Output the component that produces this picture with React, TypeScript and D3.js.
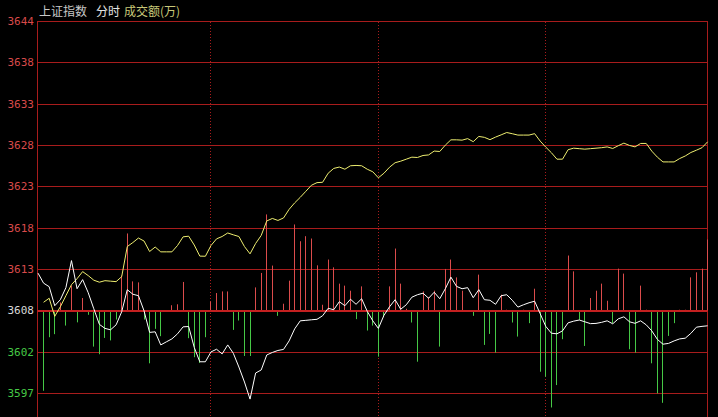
import React from "react";
import * as d3 from "d3";

// ---- data ----
const slotMinutes: number[] = d3.range(0, 241, 2); // every 2 minutes, 9:30 .. 15:00
const prevClose = 3608.05;
const gridStep = 5.15;
const tickLabels = ["3644", "3638", "3633", "3628", "3623", "3618", "3613", "3608", "3602", "3597"];
const tickSteps = [7, 6, 5, 4, 3, 2, 1, 0, -1, -2];
const gridMinutes = [62, 122, 182];

const yellowSeries: (number | null)[] = [
  null, 3609.11, 3609.61, 3607.36, 3608.55, 3609.93, 3611.30, 3612.05, 3612.93, 3612.43,
  3611.86, 3611.61, 3611.80, 3611.74, 3611.68, 3612.30, 3616.05, 3616.55, 3617.11, 3616.74,
  3615.43, 3615.99, 3615.39, 3615.39, 3615.39, 3616.18, 3617.26, 3617.34, 3616.24, 3614.86,
  3614.84, 3616.18, 3617.01, 3617.30, 3617.74, 3617.51, 3617.30, 3616.05, 3615.14, 3616.43,
  3617.43, 3619.24, 3619.55, 3619.30, 3619.61, 3620.68, 3621.49, 3622.18, 3622.93, 3623.68,
  3624.01, 3624.05, 3625.18, 3625.78, 3625.95, 3625.68, 3626.11, 3626.15, 3626.11, 3625.68,
  3625.36, 3624.61, 3625.18, 3625.93, 3626.49, 3626.68, 3626.93, 3627.18, 3627.14, 3627.39,
  3627.46, 3627.94, 3627.89, 3628.68, 3629.34, 3629.34, 3629.30, 3629.49, 3629.11, 3629.76,
  3629.65, 3629.36, 3629.68, 3629.96, 3630.25, 3630.10, 3629.93, 3629.93, 3629.93, 3630.11,
  3629.18, 3628.43, 3627.74, 3626.93, 3626.93, 3628.11, 3628.30, 3628.24, 3628.18, 3628.24,
  3628.30, 3628.36, 3628.46, 3628.26, 3628.61, 3628.93, 3628.64, 3628.46, 3628.89, 3628.89,
  3627.93, 3627.18, 3626.59, 3626.59, 3626.59, 3627.01, 3627.33, 3627.76, 3628.05, 3628.36, 3629.09,
];

const whiteSeries: number[] = [
  3612.74, 3611.49, 3611.05, 3608.68, 3609.43, 3610.93, 3614.30, 3610.80, 3611.93, 3610.30,
  3608.30, 3606.36, 3605.86, 3605.68, 3606.30, 3607.93, 3610.68, 3610.11, 3609.93, 3608.05,
  3605.36, 3605.43, 3603.80, 3604.18, 3604.55, 3605.18, 3606.05, 3606.09, 3603.49, 3601.70,
  3601.70, 3602.93, 3603.26, 3602.68, 3603.80, 3602.76, 3601.05, 3599.18, 3597.05, 3600.30,
  3600.68, 3602.55, 3602.86, 3603.11, 3603.24, 3604.30, 3605.80, 3606.80, 3606.86, 3606.93,
  3606.99, 3607.43, 3608.36, 3608.18, 3609.18, 3608.68, 3609.49, 3608.86, 3609.55, 3607.99,
  3606.80, 3605.86, 3607.49, 3608.55, 3609.43, 3608.24, 3608.80, 3609.74, 3610.05, 3610.24,
  3609.61, 3610.36, 3609.55, 3610.80, 3612.24, 3611.09, 3610.80, 3610.93, 3609.68, 3610.68,
  3609.43, 3609.36, 3608.86, 3609.93, 3610.05, 3609.36, 3608.51, 3608.80, 3609.05, 3609.24,
  3607.68, 3606.11, 3605.26, 3605.18, 3605.55, 3606.55, 3606.76, 3606.90, 3606.68, 3606.45,
  3606.48, 3606.61, 3606.80, 3606.43, 3607.05, 3607.30, 3606.68, 3606.49, 3606.80, 3606.30,
  3605.55, 3604.49, 3603.89, 3603.99, 3604.30, 3604.55, 3604.64, 3605.24, 3606.01, 3606.11, 3606.18,
];

const barSeries: number[] = [
  0, -9.96, -3.29, -2.91, 1.04, -1.84, 3.13, -1.44, 1.59, -0.5,
  -4.46, -5.41, -3.38, -3.69, -1.09, 4.38, 9.63, 3.66, 3.54, -1.09,
  -6.54, -2.25, -3.16, 0, 0.69, 0.81, 3.59, -3.41, -5.78, -6.5,
  -3.29, 1.16, 2.21, 2.41, 2.41, -2.38, -1.21, -5.63, -5.63, 2.91,
  4.71, 12, 5.63, -0.63, 0.88, 3.75, 10.75, 8.66, 9.29, 9,
  5.66, 0.75, 6.38, 5.41, 3.38, 3.13, 2.5, -1.04, 3.04, -2.46,
  -1.84, -5.71, -0.79, 3.04, 7.75, 3.38, 0.25, -1.46, -6.34, 2.41,
  1.71, 2.5, -4.46, 5.21, 6.38, 4.16, 2.5, 0, -0.63, 4.5,
  -4.25, -2.88, -5.21, 2, 0.13, -1.46, -3.21, 0.13, -1.54, 2.75,
  -7.59, -8.21, -12.04, -9.25, -3.54, 6.88, 4.91, -1.13, -4.38, 1.59,
  2.5, 3.38, 1.25, -1.54, 5.25, 4.63, -4.79, -5.21, 3.13, 0.13,
  -6.54, -10.29, -11.46, -3.13, -1.54, 0.13, 0.13, 4.16, 4.79, 5.25, 8.88,
];

const W = 718;
const H = 417;
const RED_GRID = "#a81c1c";
const RED_TEXT = "#d84a4a";
const GREEN = "#46c846";
const RED_BAR = "#dc4c4c";

export default function App() {
  const x = d3.scaleLinear().domain([0, 240]).range([38, 707.6]);
  const y = d3
    .scaleLinear()
    .domain([prevClose - 2 * gridStep, prevClose + 7 * gridStep])
    .range([393.5, 21.3]);

  const crisp = (v: number) => Math.floor(v) + 0.5;
  const x0 = 37.5;
  const x1 = 707.5;

  const line = d3
    .line<number | null>()
    .defined((d) => d !== null)
    .x((_, i) => x(slotMinutes[i]))
    .y((d) => y(d as number));

  const baseY = y(prevClose);

  const labelColor = (s: number) => (s > 0 ? RED_TEXT : s === 0 ? "#d8d8d8" : GREEN);

  return (
    <svg
      width={W}
      height={H}
      style={{ position: "absolute", left: 0, top: 0, background: "#000", display: "block" }}
    >
      <rect x={0} y={0} width={W} height={H} fill="#000" />
      {/* header */}
      <g fontFamily="'Noto Sans CJK SC', 'Noto Sans', sans-serif" fontSize={12}>
        <text x={39} y={16} fill="#c8c8c8">上证指数</text>
        <text x={96} y={16} fill="#e4e4e4">分时</text>
        <text x={124} y={16} fill="#c8c878">成交额(万)</text>
      </g>

      {/* horizontal grid */}
      {tickSteps.map((s, i) => {
        const yy = crisp(y(prevClose + s * gridStep));
        if (s === 0) return null;
        return <line key={"g" + i} x1={x0} x2={x1} y1={yy} y2={yy} stroke={RED_GRID} strokeWidth={1} />;
      })}
      {/* vertical dotted grid */}
      {gridMinutes.map((m, i) => {
        const xx = crisp(x(m));
        return (
          <line key={"v" + i} x1={xx} x2={xx} y1={22} y2={H} stroke={RED_GRID} strokeWidth={1} strokeDasharray="1,2" />
        );
      })}
      {/* frame */}
      <line x1={x0} x2={x0} y1={21} y2={H} stroke={RED_GRID} strokeWidth={1} />
      <line x1={x1} x2={x1} y1={21} y2={H} stroke={RED_GRID} strokeWidth={1} />

      {/* bars */}
      {barSeries.map((v, i) => {
        if (v === 0) return null;
        const xx = crisp(x(slotMinutes[i]));
        const yy = y(prevClose + v);
        return (
          <line
            key={"b" + i}
            x1={xx}
            x2={xx}
            y1={baseY}
            y2={yy}
            stroke={v > 0 ? RED_BAR : GREEN}
            strokeWidth={1}
          />
        );
      })}

      {/* baseline */}
      <line x1={x0} x2={x1} y1={Math.round(baseY)} y2={Math.round(baseY)} stroke="#c42020" strokeWidth={2} />

      {/* lines */}
      <path d={line(yellowSeries) || ""} fill="none" stroke="#eeee70" strokeWidth={1} />
      <path d={line(whiteSeries) || ""} fill="none" stroke="#ffffff" strokeWidth={1} />

      {/* y labels */}
      <g fontFamily="'DejaVu Sans Mono', monospace" fontSize={11}>
        {tickSteps.map((s, i) => (
          <text
            key={"t" + i}
            x={34}
            y={y(prevClose + s * gridStep)}
            textAnchor="end"
            dominantBaseline="central"
            fill={labelColor(s)}
          >
            {tickLabels[i]}
          </text>
        ))}
      </g>
    </svg>
  );
}
